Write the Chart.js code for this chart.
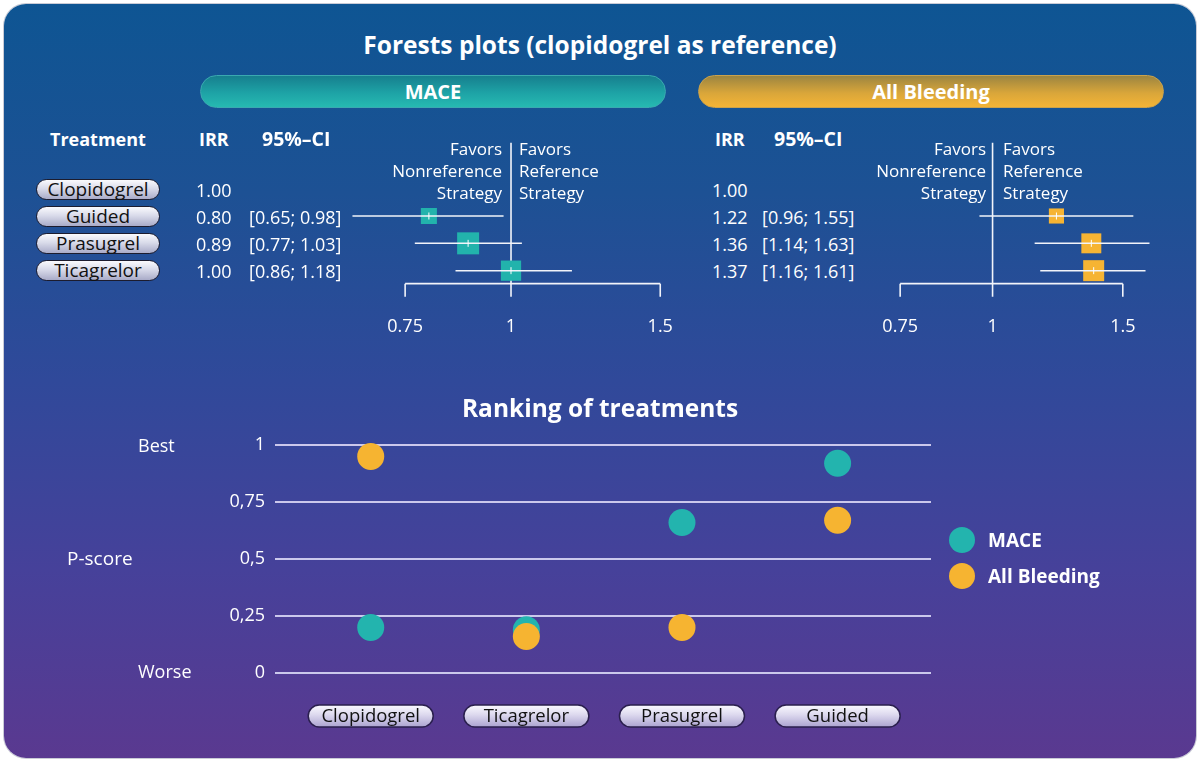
<!DOCTYPE html>
<html><head><meta charset="utf-8">
<script src="https://cdn.jsdelivr.net/npm/chart.js@4.4.1/dist/chart.umd.min.js"></script>
<style>
html,body{margin:0;padding:0;background:#fff;}
body{width:1200px;height:762px;position:relative;overflow:hidden;font-family:"Open Sans",sans-serif;}
#card{position:absolute;left:4px;top:4px;width:1192px;height:754px;border-radius:22px;
 background:linear-gradient(180deg,#0e5593 0%,#1d5194 25%,#30499a 50%,#46419a 75%,#5a3990 100%);
 box-shadow:0 0 0 1px #c9cbd6;}
.t{position:absolute;color:#fff;white-space:nowrap;line-height:1;}
.hdr{position:absolute;height:33px;border-radius:17px;color:#fff;font-weight:700;font-size:20px;
 display:flex;align-items:center;justify-content:center;box-sizing:border-box;}
#hMace{left:200px;top:75px;width:466px;background:linear-gradient(180deg,#167f8e 0%,#1ea3a6 55%,#26b9b1 100%);border:1px solid #3aa9b0;}
#hBleed{left:698px;top:75px;width:466px;background:linear-gradient(180deg,#9c8540 0%,#d9a63a 55%,#f4b436 100%);border:1px solid #caa24c;}
.pill{position:absolute;box-sizing:border-box;border-radius:11px;border:1.5px solid #1c1c2e;
 background:linear-gradient(180deg,#fafafd 0%,#d9dbea 45%,#a9abc8 100%);color:#111;
 display:flex;align-items:center;justify-content:center;font-size:19px;line-height:1;}
canvas{position:absolute;}
</style></head>
<body>
<div id="card"></div>
<div class="hdr" id="hMace">MACE</div>
<div class="hdr" id="hBleed">All Bleeding</div>
<canvas id="fMace" width="361" height="205" style="left:323px;top:134px;width:361px;height:205px"></canvas>
<canvas id="fBleed" width="285" height="205" style="left:878px;top:134px;width:285px;height:205px"></canvas>
<canvas id="rank" width="880" height="320" style="left:100px;top:420px;width:880px;height:320px"></canvas>
<script>
// ---------- data ----------
const treatments = ['Clopidogrel', 'Guided', 'Prasugrel', 'Ticagrelor'];
const maceIRR   = [1.00, 0.80, 0.89, 1.00];
const maceLow   = [null, 0.65, 0.77, 0.86];
const maceHigh  = [null, 0.98, 1.03, 1.18];
const maceWeight = [null, 0.73, 1.00, 0.92];
const bleedIRR  = [1.00, 1.22, 1.36, 1.37];
const bleedLow  = [null, 0.96, 1.14, 1.16];
const bleedHigh = [null, 1.55, 1.63, 1.61];
const bleedWeight = [null, 0.72, 0.95, 1.00];
const forestTicks = [0.75, 1, 1.5];

const rankCategories = ['Clopidogrel', 'Ticagrelor', 'Prasugrel', 'Guided'];
const rankMACE     = [0.20, 0.19, 0.66, 0.92];
const rankBleeding = [0.95, 0.16, 0.20, 0.67];
const rankTickLabels = ['0', '0,25', '0,5', '0,75', '1'];

// ---------- html text ----------
function txt(s, x, y, o) {
  o = o || {};
  const d = document.createElement('div');
  d.className = 't'; d.textContent = s;
  d.style.left = x + 'px'; d.style.top = y + 'px';
  d.style.fontSize = (o.size || 18) + 'px';
  d.style.fontWeight = o.w || 400;
  d.style.transform = o.align === 'center' ? 'translate(-50%,-50%)' : (o.align === 'right' ? 'translate(-100%,-50%)' : 'translateY(-50%)');
  document.body.appendChild(d);
  return d;
}
txt('Forests plots (clopidogrel as reference)', 600, 45, {size: 24.5, w: 700, align: 'center'});
txt('Treatment', 50, 139, {size: 18, w: 700});
txt('IRR', 199, 139, {size: 18, w: 700});
txt('95%–CI', 262, 139, {size: 19.5, w: 700});
txt('IRR', 715, 139, {size: 18, w: 700});
txt('95%–CI', 774, 139, {size: 19.5, w: 700});
const rowY = [190, 217, 244, 271];
const fmt = v => v.toFixed(2);
treatments.forEach((t, i) => {
  const p = document.createElement('div');
  p.className = 'pill'; p.textContent = t;
  Object.assign(p.style, {left: '36px', top: (rowY[i] - 11) + 'px', width: '124px', height: '21px'});
  document.body.appendChild(p);
  txt(fmt(maceIRR[i]), 196, rowY[i], {size: 18});
  txt(fmt(bleedIRR[i]), 712, rowY[i], {size: 18});
  if (maceLow[i] !== null) txt('[' + fmt(maceLow[i]) + '; ' + fmt(maceHigh[i]) + ']', 249, rowY[i], {size: 18});
  if (bleedLow[i] !== null) txt('[' + fmt(bleedLow[i]) + '; ' + fmt(bleedHigh[i]) + ']', 762, rowY[i], {size: 18});
});
const favL = ['Favors', 'Nonreference', 'Strategy'];
const favR = ['Favors', 'Reference', 'Strategy'];
[148, 170, 192].forEach((y, k) => {
  txt(favL[k], 502, y, {size: 17, align: 'right'});
  txt(favR[k], 519, y, {size: 17});
  txt(favL[k], 986, y, {size: 17, align: 'right'});
  txt(favR[k], 1003, y, {size: 17});
});
txt('Ranking of treatments', 600, 408, {size: 24.5, w: 700, align: 'center'});
txt('Best', 138, 445, {size: 18});
txt('Worse', 138, 671, {size: 18});
txt('P-score', 67, 558, {size: 19});
// legend
function legendItem(label, color, y) {
  const c = document.createElement('div');
  Object.assign(c.style, {position: 'absolute', left: '949px', top: (y - 13) + 'px', width: '26px', height: '26px', borderRadius: '50%', background: color});
  document.body.appendChild(c);
  txt(label, 988, y, {size: 19, w: 700});
}
legendItem('MACE', '#23b4ae', 540);
legendItem('All Bleeding', '#f6b431', 576);

// ---------- forest plots ----------
const forestAxis = {
  id: 'forestAxis',
  beforeDatasetsDraw(chart) {
    const {ctx, scales: {x, y}} = chart;
    const yLast = y.getPixelForValue(treatments.length - 1);
    const axisY = yLast + 13, tickB = yLast + 26, labY = yLast + 56;
    const refTop = y.getPixelForValue(0) - 46;
    ctx.save();
    ctx.strokeStyle = '#f2f4fa'; ctx.lineWidth = 1.6;
    ctx.beginPath();
    const x0 = x.getPixelForValue(forestTicks[0]), x2 = x.getPixelForValue(forestTicks[forestTicks.length - 1]);
    ctx.moveTo(x0, axisY); ctx.lineTo(x2, axisY);
    forestTicks.forEach(v => { const px = x.getPixelForValue(v); ctx.moveTo(px, axisY); ctx.lineTo(px, tickB); });
    const p1 = x.getPixelForValue(1);
    ctx.moveTo(p1, refTop); ctx.lineTo(p1, tickB);
    ctx.stroke();
    ctx.fillStyle = '#fff'; ctx.font = '18px "Open Sans"'; ctx.textAlign = 'center'; ctx.textBaseline = 'middle';
    forestTicks.forEach(v => ctx.fillText(String(v), x.getPixelForValue(v), labY));
    ctx.restore();
  }
};
function forest(id, irr, lo, hi, weight, color, maxSide, xmin, xmax) {
  const rows = treatments.map((t, i) => i).filter(i => lo[i] !== null);
  const ciSets = rows.map(i => ({
    data: [{x: lo[i], y: i}, {x: hi[i], y: i}], showLine: true, borderColor: '#f2f4fa', borderWidth: 1.5,
    pointRadius: 0, order: 1
  }));
  new Chart(document.getElementById(id), {
    type: 'scatter',
    data: {datasets: [
      {data: rows.map(i => ({x: irr[i], y: i})), pointStyle: 'line', rotation: 90, pointRadius: 3.5, borderColor: '#fff', borderWidth: 1, order: 0},
      ...ciSets,
      {data: rows.map(i => ({x: irr[i], y: i})), pointStyle: 'rect', pointRadius: rows.map(i => weight[i] * maxSide / Math.SQRT2),
       backgroundColor: color, borderWidth: 0, order: 2}
    ]},
    options: {
      responsive: false, animation: false, clip: false,
      layout: {padding: 0, autoPadding: false},
      plugins: {legend: {display: false}, tooltip: {enabled: false}},
      scales: {
        x: {type: 'logarithmic', min: xmin, max: xmax, display: false},
        y: {type: 'linear', min: -2, max: 5.5, reverse: true, display: false}
      }
    },
    plugins: [forestAxis]
  });
}
forest('fMace', maceIRR, maceLow, maceHigh, maceWeight, '#22b3ac', 22, 0.6, 1.6);
forest('fBleed', bleedIRR, bleedLow, bleedHigh, bleedWeight, '#f6b433', 21, 0.7, 1.7);

// ---------- ranking ----------
const pillPlugin = {
  id: 'pills',
  afterDraw(chart) {
    const {ctx, scales: {x}} = chart;
    const cy = 296, w = 125, h = 22, r = 11;
    ctx.save();
    rankCategories.forEach((c, i) => {
      const cx = x.getPixelForValue(i);
      const l = cx - w / 2, t = cy - h / 2;
      const g = ctx.createLinearGradient(0, t, 0, t + h);
      g.addColorStop(0, '#fbfaff'); g.addColorStop(0.45, '#dcd8ee'); g.addColorStop(1, '#aba3d0');
      ctx.beginPath(); ctx.roundRect(l, t, w, h, r);
      ctx.fillStyle = g; ctx.fill();
      ctx.lineWidth = 1.5; ctx.strokeStyle = '#2a1f4e'; ctx.stroke();
      ctx.fillStyle = '#111'; ctx.font = '18.5px "Open Sans"'; ctx.textAlign = 'center'; ctx.textBaseline = 'middle';
      ctx.fillText(c, cx, cy + 1);
    });
    ctx.restore();
  }
};
new Chart(document.getElementById('rank'), {
  type: 'scatter',
  data: {datasets: [
    {label: 'MACE', data: rankCategories.map((c, i) => ({x: i, y: rankMACE[i]})), pointRadius: 13.5, backgroundColor: '#23b4ae', borderWidth: 0, order: 2},
    {label: 'All Bleeding', data: rankCategories.map((c, i) => ({x: i, y: rankBleeding[i]})), pointRadius: 13.5, backgroundColor: '#f6b431', borderWidth: 0, order: 1}
  ]},
  options: {
    responsive: false, animation: false, clip: false,
    layout: {padding: {top: 25, bottom: 67, right: 49, left: 0}, autoPadding: false},
    plugins: {legend: {display: false}, tooltip: {enabled: false}},
    scales: {
      x: {type: 'linear', min: -0.615, max: 3.6, display: false},
      y: {
        min: 0, max: 1,
        afterFit(s) { s.width = 175; },
        border: {display: false},
        grid: {color: '#cbc8ec', lineWidth: 2, drawTicks: false},
        ticks: {stepSize: 0.25, padding: 10, color: '#fff', font: {family: 'Open Sans', size: 18},
          callback: (v, idx) => rankTickLabels[idx]}
      }
    }
  },
  plugins: [pillPlugin]
});
</script>
</body></html>
